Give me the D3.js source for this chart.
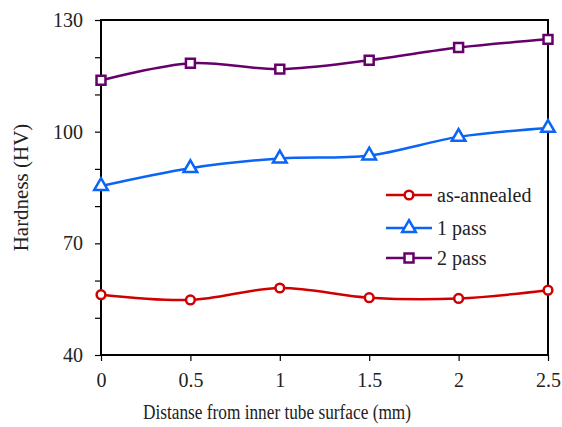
<!DOCTYPE html>
<meta charset="utf-8">
<style>
body { margin: 0; background: #fff; }
text { font-family: "Liberation Serif", "Times New Roman", serif; fill: #222; }
.series { fill: none; stroke-width: 2.5px; }
</style>
<script src="https://cdn.jsdelivr.net/npm/d3@7"></script>
<body>
<script>

var distance = [0, 0.5, 1, 1.5, 2, 2.5];
var asAnnealed = [56.2, 54.8, 58.0, 55.4, 55.2, 57.4];
var onePass = [85.4, 90.2, 92.8, 93.6, 98.6, 101.0];
var twoPass = [113.8, 118.4, 116.8, 119.2, 122.6, 124.8];
var xTicks = [0, 0.5, 1, 1.5, 2, 2.5];
var yTicks = [40, 70, 100, 130];

var width = 562,
    height = 427;

var svg = d3.select("body")
              .append("svg")
              .attr("width", width)
              .attr("height", height);

// plot box (don't call it "top", that's window.top)
var plotL = 101, plotR = 548, plotT = 20, plotB = 355;

var x = d3.scaleLinear().domain([0, 2.5]).range([plotL, plotR]);
var y = d3.scaleLinear().domain([40, 130]).range([plotB, plotT]);

var series = [
  { name: "as-annealed", values: asAnnealed, color: "#d00000", marker: "circle" },
  { name: "1 pass", values: onePass, color: "#0a64f5", marker: "triangle" },
  { name: "2 pass", values: twoPass, color: "#66006a", marker: "square" }
];

// axes
var yAxis = d3.axisLeft(y)
                .tickValues(d3.range(40, 131, 10))
                .tickSize(6)
                .tickFormat(function (d) { return yTicks.indexOf(d) >= 0 ? d : ""; });

svg.append("g")
  .attr("transform", "translate(" + plotL + ",0)")
  .call(yAxis)
  .call(function (g) {
    g.select(".domain").remove();
    g.selectAll("line").attr("stroke", "#000").attr("stroke-width", 1.2);
    g.selectAll("text").attr("font-size", "20px").attr("x", -18).attr("fill", "#2a2a2a");
  });

var xAxis = d3.axisBottom(x)
                .tickValues(xTicks)
                .tickSize(6)
                .tickFormat(function (d) { return d; });

svg.append("g")
  .attr("transform", "translate(0," + plotB + ")")
  .call(xAxis)
  .call(function (g) {
    g.select(".domain").remove();
    g.selectAll("line").attr("stroke", "#000").attr("stroke-width", 1.2);
    g.selectAll("text").attr("font-size", "20px").attr("y", 18).attr("fill", "#2a2a2a");
  });

// frame
svg.append("rect")
  .attr("x", plotL)
  .attr("y", plotT)
  .attr("width", plotR - plotL)
  .attr("height", plotB - plotT)
  .attr("fill", "none")
  .attr("stroke", "#000")
  .attr("stroke-width", 2);

// lines
var line = d3.line()
              .x(function (d, i) { return x(distance[i]); })
              .y(function (d) { return y(d); })
              .curve(d3.curveCatmullRom.alpha(0.5));

var sym = {
  circle: d3.symbol().type(d3.symbolCircle).size(60),
  triangle: d3.symbol().type(d3.symbolTriangle).size(80),
  square: d3.symbol().type(d3.symbolSquare).size(80)
};

series.forEach(function (s) {
  svg.append("path")
    .attr("class", "series")
    .attr("d", line(s.values))
    .attr("stroke", s.color);

  svg.selectAll(null)
    .data(s.values)
    .enter()
      .append("path")
        .attr("transform", function (d, i) { return "translate(" + x(distance[i]) + "," + y(d) + ")"; })
        .attr("d", sym[s.marker])
        .attr("fill", "#fff")
        .attr("stroke", s.color)
        .attr("stroke-width", 2.5);
});

// legend
var legend = svg.selectAll(".legend")
                .data(series)
                .enter()
                  .append("g")
                    .attr("class", "legend")
                    .attr("transform", function (d, i) { return "translate(386," + [195, 228, 258][i] + ")"; });

legend.append("line")
  .attr("x1", 0).attr("x2", 46)
  .attr("stroke", function (d) { return d.color; })
  .attr("stroke-width", 2.5);

legend.append("path")
  .attr("transform", "translate(23,0)")
  .attr("d", function (d) { return sym[d.marker](); })
  .attr("fill", "#fff")
  .attr("stroke", function (d) { return d.color; })
  .attr("stroke-width", 2.5);

legend.append("text")
  .attr("x", 51)
  .attr("dy", "0.35em")
  .attr("font-size", "20px")
  .text(function (d) { return d.name; });

// titles
svg.append("text")
  .attr("transform", "translate(21," + (plotT + plotB) / 2 + ") rotate(-90)")
  .attr("text-anchor", "middle")
  .attr("dy", "0.35em")
  .attr("font-size", "21px")
  .text("Hardness (HV)");

svg.append("text")
  .attr("x", 277)
  .attr("y", 419)
  .attr("text-anchor", "middle")
  .attr("font-size", "20px")
  .attr("textLength", 268)
  .attr("lengthAdjust", "spacingAndGlyphs")
  .text("Distanse from inner tube surface (mm)");

</script>
</body>
